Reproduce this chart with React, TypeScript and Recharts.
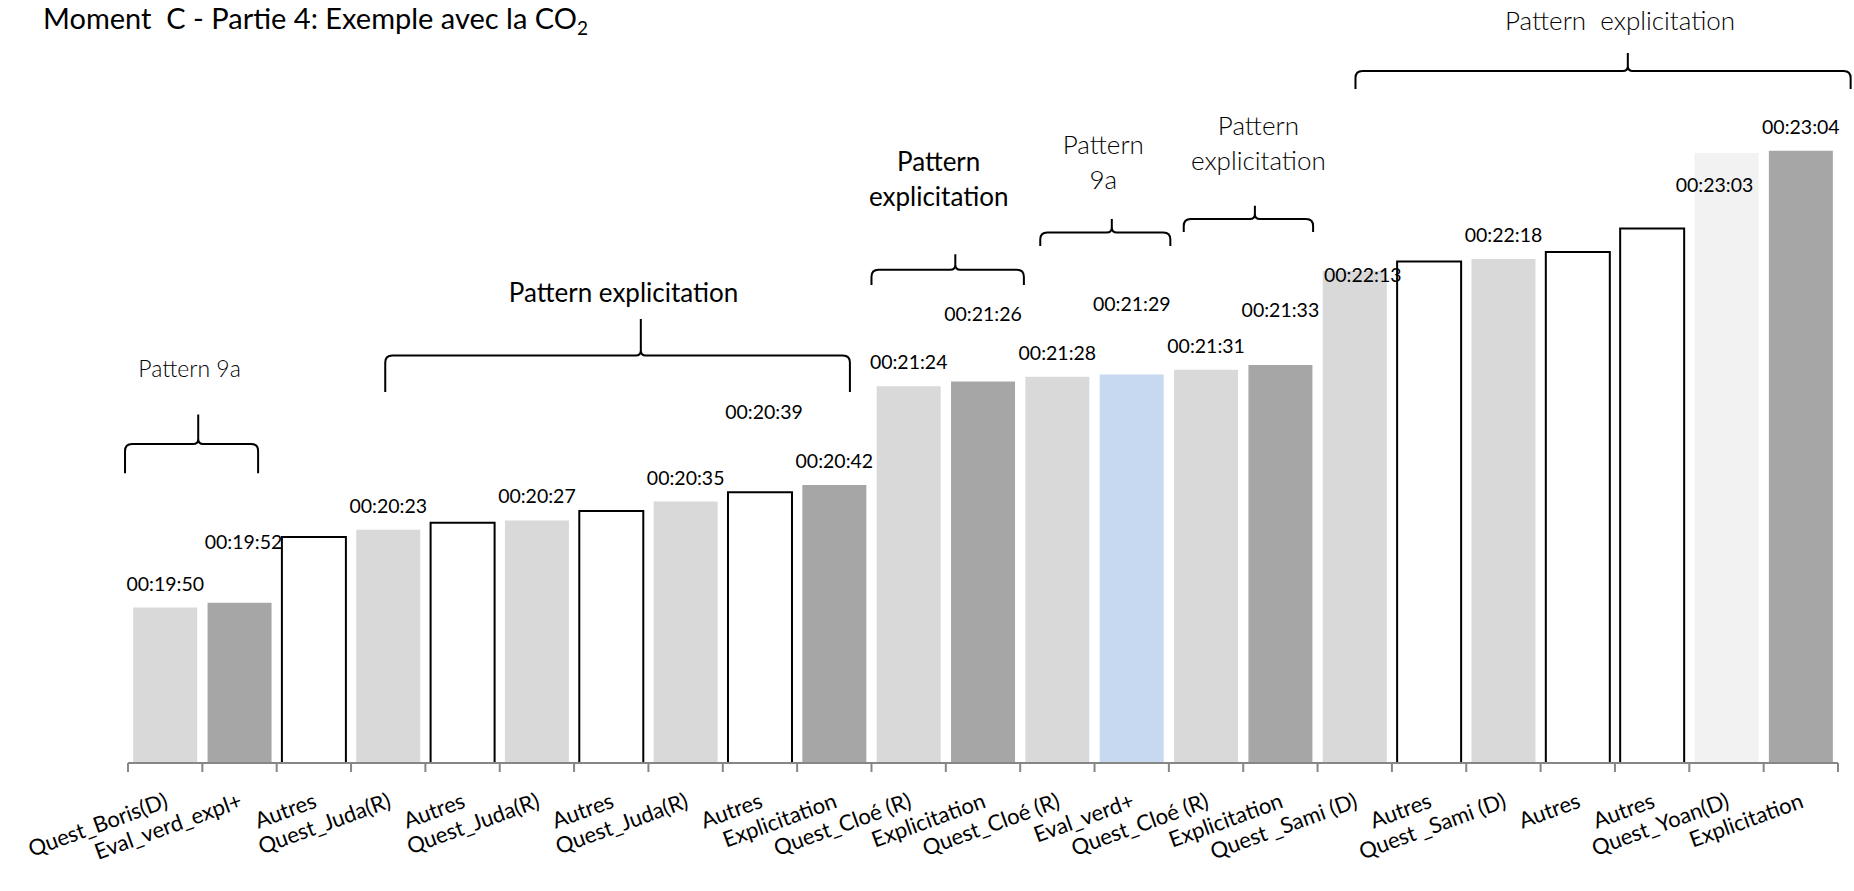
import { BarChart, Bar, XAxis, YAxis, Cell, LabelList, ReferenceArea } from "recharts";

// categories on the x axis (in order)
const categories = [
  "Quest_Boris(D)", "Eval_verd_expl+", "Autres", "Quest_Juda(R)", "Autres",
  "Quest_Juda(R)", "Autres", "Quest_Juda(R)", "Autres", "Explicitation",
  "Quest_Cloé (R)", "Explicitation", "Quest_Cloé (R)", "Eval_verd+", "Quest_Cloé (R)",
  "Explicitation", "Quest _Sami (D)", "Autres", "Quest _Sami (D)", "Autres",
  "Autres", "Quest_Yoan(D)", "Explicitation",
];

// time stamp of every bar
const times = [
  "00:19:50", "00:19:52", "00:20:20", "00:20:23", "00:20:26",
  "00:20:27", "00:20:31", "00:20:35", "00:20:39", "00:20:42",
  "00:21:24", "00:21:26", "00:21:28", "00:21:29", "00:21:31",
  "00:21:33", "00:22:13", "00:22:17", "00:22:18", "00:22:21",
  "00:22:31", "00:23:03", "00:23:04",
];

// which bars carry a data label
const labelled = [
  true, true, false, true, false, true, false, true, true, true,
  true, true, true, true, true, true, true, false, true, false,
  false, true, true,
];

// bracket annotations: first / last category, text lines
const braceFrom = [0, 3, 10, 12, 14, 16];
const braceTo = [1, 9, 11, 13, 15, 22];
const braceText = [
  ["Pattern 9a"],
  ["Pattern explicitation"],
  ["Pattern", "explicitation"],
  ["Pattern", "9a"],
  ["Pattern", "explicitation"],
  ["Pattern  explicitation"],
];

const FONT = "Lato, 'Open Sans', sans-serif";
const Y_MIN = 1124;
const Y_MAX = 1448;
const TICK_ANGLE = -20;

const toSec = (t: string) => {
  const [h, m, s] = t.split(":").map(Number);
  return h * 3600 + m * 60 + s;
};

// manual label moves (px), like the hand-placed labels of the original
const labelNudge: Record<number, [number, number]> = {
  1: [4, -37],
  8: [4, -56],
  11: [0, -44],
  13: [0, -46],
  15: [0, -31],
  16: [8, 28],
  21: [-12, 56],
};

// bracket placement: vertical span in seconds, horizontal insets in bands
const braceLayout = [
  { low: 1247, high: 1272, inL: -0.04, inR: 0.25, gap: 37, dx: -2, size: 23, weight: 300 },
  { low: 1281.5, high: 1312.5, inL: 0.46, inR: 0.29, gap: 17, dx: 6, size: 26, weight: 400 },
  { low: 1327, high: 1340, inL: 0, inR: -0.05, gap: 48, dx: -9, size: 26, weight: 400 },
  { low: 1343.5, high: 1355, inL: 0.27, inR: -0.02, gap: 30, dx: -2, size: 26, weight: 300 },
  { low: 1349.5, high: 1360.6, inL: 0.2, inR: 0.06, gap: 36, dx: 10, size: 26, weight: 300 },
  { low: 1410.2, high: 1425.5, inL: 0.51, inR: -0.17, gap: 23, dx: 17, size: 26, weight: 300 },
];

const rows = categories.map((name, i) => ({
  key: `c${i}`,
  name,
  sec: toSec(times[i]),
  label: times[i],
}));

function barStyle(label: string) {
  if (label === "Autres") return { fill: "#FFFFFF", stroke: "#000000", strokeWidth: 2 };
  if (label === "Eval_verd+") return { fill: "#C6D9F1" };
  if (label.startsWith("Quest_Yoan")) return { fill: "#F2F2F2" };
  if (label.startsWith("Quest")) return { fill: "#D9D9D9" };
  return { fill: "#A6A6A6" };
}

const HALF_BAND = (1854 - 128 - 16) / categories.length / 2;

function CategoryTick(props: any) {
  const { x, y, payload } = props;
  const i = payload?.index ?? props.index;
  const half = payload?.offset || HALF_BAND;
  const ax = Number(x) + 4;
  const ay = Number(y) + 44;
  return (
    <g>
      <line x1={x - half} y1={y} x2={x - half} y2={y + 9} stroke="#868686" strokeWidth={2} />
      {i === categories.length - 1 && (
        <line x1={x + half} y1={y} x2={x + half} y2={y + 9} stroke="#868686" strokeWidth={2} />
      )}
      <text
        x={0}
        y={0}
        transform={`translate(${ax} ${ay}) rotate(${TICK_ANGLE})`}
        textAnchor="end"
        fontSize={22}
        fontFamily={FONT}
        fill="#000"
      >
        {categories[i]}
      </text>
    </g>
  );
}

function TimeLabel(props: any) {
  const { x, y, width, index, value } = props;
  if (!labelled[index]) return null;
  const [dx, dy] = labelNudge[index] ?? [0, 0];
  return (
    <text
      x={Number(x) + Number(width) / 2 + dx}
      y={Number(y) - 17 + dy}
      textAnchor="middle"
      fontSize={19.5}
      fontFamily={FONT}
      fill="#000"
    >
      {value}
    </text>
  );
}

function Brace(props: any) {
  const { x, y, width, height, k } = props;
  const lay = braceLayout[k];
  const band = width / (braceTo[k] - braceFrom[k] + 1);
  const x0 = x + lay.inL * band;
  const x1 = x + width - lay.inR * band;
  const xt = x0 + (x1 - x0) * 0.55;
  const ty = y;
  const by = y + height;
  const ly = y + height / 2;
  const r = Math.min(7, height / 2 - 1);
  const rt = Math.min(5, height / 2 - 1);
  const d = [
    `M ${x0} ${by} L ${x0} ${ly + r} Q ${x0} ${ly} ${x0 + r} ${ly} L ${xt - rt} ${ly} Q ${xt} ${ly} ${xt} ${ly - rt} L ${xt} ${ty}`,
    `M ${x1} ${by} L ${x1} ${ly + r} Q ${x1} ${ly} ${x1 - r} ${ly} L ${xt + rt} ${ly} Q ${xt} ${ly} ${xt} ${ly - rt}`,
  ].join(" ");
  const lines = braceText[k];
  const cx = (x0 + x1) / 2 + lay.dx;
  const lastBase = ty - lay.gap;
  return (
    <g>
      <path d={d} fill="none" stroke="#000" strokeWidth={2} />
      {lines.map((t, j) => (
        <text
          key={j}
          x={cx}
          y={lastBase - (lines.length - 1 - j) * 35}
          textAnchor="middle"
          fontSize={lay.size}
          fontWeight={lay.weight}
          fontFamily={FONT}
          fill="#000"
          style={{ whiteSpace: "pre" }}
        >
          {t}
        </text>
      ))}
    </g>
  );
}

export default function App() {
  return (
    <div style={{ position: "absolute", left: 0, top: 0, width: 1854, height: 891, background: "#fff" }}>
      <svg width={700} height={50} style={{ position: "absolute", left: 0, top: 0 }}>
        <text x={43} y={29} fontSize={29} fontFamily={FONT} fill="#000" style={{ whiteSpace: "pre" }}>
          {"Moment  C - Partie 4: Exemple avec la CO"}
          <tspan fontSize={19} dy={6}>2</tspan>
        </text>
      </svg>
      <BarChart
        width={1854}
        height={891}
        data={rows}
        margin={{ top: 0, right: 16, bottom: 0, left: 128 }}
        barCategoryGap="7%"
      >
        <XAxis
          dataKey="key"
          interval={0}
          height={128}
          axisLine={{ stroke: "#868686", strokeWidth: 2 }}
          tickLine={false}
          tickSize={0}
          tickMargin={0}
          tick={(p: any) => <CategoryTick {...p} />}
        />
        <YAxis type="number" hide domain={[Y_MIN, Y_MAX]} allowDataOverflow />
        <Bar dataKey="sec" isAnimationActive={false}>
          {rows.map((r) => (
            <Cell key={r.key} {...barStyle(r.name)} />
          ))}
          <LabelList dataKey="label" content={(p: any) => <TimeLabel {...p} />} />
        </Bar>
        {braceFrom.map((f, k) => (
          <ReferenceArea
            key={k}
            x1={`c${f}`}
            x2={`c${braceTo[k]}`}
            y1={braceLayout[k].low}
            y2={braceLayout[k].high}
            ifOverflow="visible"
            shape={(p: any) => <Brace {...p} k={k} />}
          />
        ))}
      </BarChart>
    </div>
  );
}
